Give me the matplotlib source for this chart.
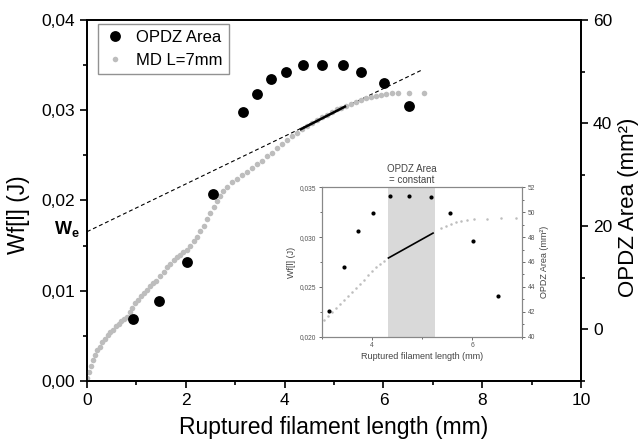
import numpy as np
import matplotlib
matplotlib.use('Agg')
import matplotlib.pyplot as plt
from matplotlib.ticker import FuncFormatter, MultipleLocator

plt.rcParams['font.family'] = ['Liberation Sans', 'DejaVu Sans']
plt.rcParams['mathtext.fontset'] = 'custom'
plt.rcParams['mathtext.rm'] = 'Liberation Sans'
plt.rcParams['mathtext.bf'] = 'Liberation Sans:bold'

#### data
# OPDZ area (right axis, mm^2)
opdz_x = [0.93, 1.45, 2.02, 2.54, 3.15, 3.44, 3.73, 4.02, 4.37, 4.75, 5.18, 5.55, 6.02, 6.51]
opdz_y = [2.0, 5.5, 13.1, 26.3, 42.1, 45.6, 48.5, 49.9, 51.3, 51.3, 51.2, 49.9, 47.7, 43.3]

# MD L=7mm work of fracture (left axis, J)
md_x = [0.00, 0.04, 0.08, 0.12, 0.17, 0.21, 0.26, 0.31, 0.36, 0.42, 0.47, 0.53, 0.58, 0.64,
        0.69, 0.75, 0.80, 0.86, 0.91, 0.97, 1.03, 1.09, 1.15, 1.21, 1.27, 1.33, 1.40, 1.48,
        1.55, 1.62, 1.68, 1.75, 1.82, 1.89, 1.95, 2.02, 2.09, 2.16, 2.22, 2.29, 2.36, 2.42,
        2.49, 2.56, 2.63, 2.70, 2.76, 2.83, 2.93, 3.03, 3.13, 3.23, 3.33, 3.43, 3.54, 3.64,
        3.74, 3.84, 3.94, 4.05, 4.15, 4.25, 4.35, 4.45, 4.55, 4.65, 4.75, 4.85, 4.95, 5.05,
        5.15, 5.25, 5.35, 5.45, 5.55, 5.65, 5.75, 5.85, 5.95, 6.05, 6.18, 6.30, 6.52, 6.82]
md_y = [0.0003, 0.0010, 0.0017, 0.0023, 0.0029, 0.0034, 0.0038, 0.0043, 0.0047, 0.0051,
        0.0054, 0.0057, 0.0061, 0.0063, 0.0066, 0.0069, 0.0071, 0.0076, 0.0081, 0.0086,
        0.0090, 0.0094, 0.0097, 0.0101, 0.0105, 0.0108, 0.0111, 0.0116, 0.0121, 0.0126,
        0.0130, 0.0134, 0.0137, 0.0140, 0.0143, 0.0145, 0.0150, 0.0155, 0.0160, 0.0166,
        0.0172, 0.0179, 0.0186, 0.0193, 0.0199, 0.0205, 0.0210, 0.0215, 0.0220, 0.0224,
        0.0228, 0.0232, 0.0236, 0.0240, 0.0244, 0.0249, 0.0253, 0.0258, 0.0263, 0.0267,
        0.0271, 0.0275, 0.0279, 0.0283, 0.0286, 0.0289, 0.0292, 0.0295, 0.0298, 0.0301,
        0.0303, 0.0305, 0.0307, 0.0309, 0.0311, 0.0313, 0.0315, 0.0316, 0.0317, 0.0318,
        0.0319, 0.0319, 0.0319, 0.0319]

# tangent (dashed) and linear part (solid)
tangent_x = [0.0, 6.77]
tangent_y = [0.01654, 0.03444]
linear_x = [4.33, 5.22]
linear_y = [0.0279, 0.0304]

# inset data
inset_md_x = [3.05, 3.13, 3.21, 3.29, 3.37, 3.45, 3.53, 3.61, 3.69, 3.77, 3.85, 3.93, 4.01,
              4.09, 4.17, 4.25, 5.37, 5.47, 5.57, 5.67, 5.77, 5.90, 6.04, 6.30, 6.57, 6.88]
inset_md_y = [0.0217, 0.0221, 0.0225, 0.0229, 0.0233, 0.0237, 0.0241, 0.0245, 0.0249, 0.0253,
              0.0257, 0.0262, 0.0266, 0.0270, 0.0273, 0.0276, 0.0309, 0.0311, 0.0313, 0.0315,
              0.0316, 0.0317, 0.0318, 0.0318, 0.0319, 0.0319]
band_x = [4.33, 5.25]


def comma_fmt(decimals):
  return FuncFormatter(lambda v, p: ('{:.%df}' % decimals).format(v).replace('.', ','))


fig = plt.figure(figsize=(6.4, 4.44), dpi=100)
ax = fig.add_axes([0.136, 0.142, 0.772, 0.813])
ax2 = ax.twinx()

# main axes
ax.plot(tangent_x, tangent_y, '--', color='black', lw=0.8, dashes=(3.5, 2.5), zorder=2)
l_md, = ax.plot(md_x, md_y, 'o', color='#bdbdbd', markersize=4.0, markeredgewidth=0, zorder=3)
ax.plot(linear_x, linear_y, '-', color='black', lw=1.8, zorder=4)
l_opdz, = ax2.plot(opdz_x, opdz_y, 'o', color='black', markersize=7.8, markeredgewidth=0)

ax.set_xlim(0, 10)
ax.set_ylim(0, 0.04)
ax2.set_ylim(-10, 60)
ax.xaxis.set_major_locator(MultipleLocator(2))
ax.xaxis.set_minor_locator(MultipleLocator(1))
ax.yaxis.set_major_locator(MultipleLocator(0.01))
ax.yaxis.set_minor_locator(MultipleLocator(0.005))
ax.yaxis.set_major_formatter(comma_fmt(2))
ax2.yaxis.set_minor_locator(MultipleLocator(10))
ax2.set_yticks([0, 20, 40, 60])

for a in (ax, ax2):
  for s in a.spines.values():
    s.set_linewidth(1.3)
ax.tick_params(which='major', direction='out', length=5, width=1.2, labelsize=12.5, top=False)
ax.tick_params(which='minor', direction='out', length=3, width=1.2, top=False)
ax2.tick_params(which='major', direction='out', length=5, width=1.2, labelsize=12.5)
ax2.tick_params(which='minor', direction='out', length=3, width=1.2)

ax.set_xlabel('Ruptured filament length (mm)', fontsize=16.5, labelpad=6)
ax.set_ylabel('Wf[l] (J)', fontsize=16.5)
ax.yaxis.set_label_coords(-0.115, 0.46)
ax2.set_ylabel('OPDZ Area (mm²)', fontsize=16)
ax2.yaxis.set_label_coords(1.074, 0.48)

ax.text(-0.40, 0.0168, '$\\mathbf{W_e}$', fontsize=13, ha='center', va='center')

leg = ax.legend([l_opdz, l_md], ['OPDZ Area', 'MD L=7mm'], loc='upper left',
                bbox_to_anchor=(0.022, 0.99), borderaxespad=0, fontsize=12, frameon=True,
                fancybox=False, handletextpad=0.6, borderpad=0.4, labelspacing=0.45,
                handlelength=1.3)
leg.get_frame().set_edgecolor('#777777')
leg.get_frame().set_linewidth(1.0)

# inset
axi = fig.add_axes([0.5027, 0.2417, 0.3134, 0.3365])
axi2 = axi.twinx()
axi.axvspan(band_x[0], band_x[1], color='#d9d9d9', lw=0, zorder=0)
axi.plot(inset_md_x, inset_md_y, 'o', color='#bdbdbd', markersize=1.8, markeredgewidth=0)
axi.plot(linear_x, linear_y, '-', color='black', lw=1.2)
axi2.plot(opdz_x, opdz_y, 'o', color='black', markersize=3.0, markeredgewidth=0)
axi.set_xlim(3, 7)
axi.set_ylim(0.020, 0.035)
axi2.set_ylim(40, 52)
axi.set_xticks([4, 6])
axi.xaxis.set_minor_locator(MultipleLocator(1))
axi.yaxis.set_major_locator(MultipleLocator(0.005))
axi.yaxis.set_minor_locator(MultipleLocator(0.0025))
axi.yaxis.set_major_formatter(comma_fmt(3))
axi2.yaxis.set_major_locator(MultipleLocator(2))
axi2.yaxis.set_minor_locator(MultipleLocator(1))
for a in (axi, axi2):
  for s in a.spines.values():
    s.set_color('#888888')
    s.set_linewidth(0.8)
  a.tick_params(which='both', direction='out', colors='#555555', labelsize=4.8, width=0.6)
  a.tick_params(which='major', length=2.5, pad=1.5)
  a.tick_params(which='minor', length=1.5)
axi.tick_params(top=False, which='both')
axi.set_xlabel('Ruptured filament length (mm)', fontsize=6.5, color='#444444', labelpad=2)
axi.set_ylabel('Wf[l] (J)', fontsize=6.5, color='#444444', labelpad=3)
axi2.set_ylabel('OPDZ Area (mm²)', fontsize=6.5, color='#444444', labelpad=3)
axi.text(sum(band_x) / 2, 0.0352, 'OPDZ Area\n= constant', fontsize=7, color='#444444',
         ha='center', va='bottom', linespacing=1.2)

fig.savefig('out.png', dpi=100)
